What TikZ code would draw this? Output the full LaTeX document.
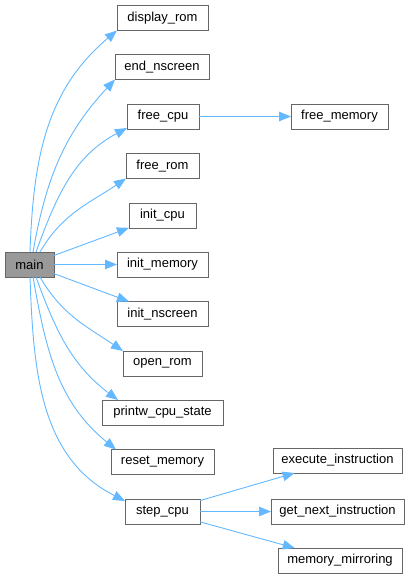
\documentclass[tikz,border=0pt]{standalone}
\usepackage{fontspec}
\setmainfont{Liberation Sans}
\usetikzlibrary{arrows.meta}
\definecolor{edgeblue}{HTML}{63B8FF}
\definecolor{boxborder}{HTML}{666666}
\definecolor{mainfill}{HTML}{999999}
\begin{document}
\begin{tikzpicture}[x=1pt,y=1pt,
 fn/.style={draw=boxborder, line width=1pt, fill=white, minimum height=25pt, inner sep=0pt, outer sep=0pt, font=\fontsize{13}{15}\selectfont},
 mainfn/.style={fn, fill=mainfill},
 edge/.style={draw=edgeblue, line width=0.9pt, -{Triangle[length=12pt,width=9.5pt]}}]
\useasboundingbox (0,0) rectangle (414,-579);
\node[mainfn, minimum width=49pt] (main) at (29.5,-264.5) {main};
\node[fn, minimum width=91pt] (display_rom) at (162.5,-18) {display\_rom};
\node[fn, minimum width=94pt] (end_nscreen) at (162,-67) {end\_nscreen};
\node[fn, minimum width=72pt] (free_cpu) at (163,-116.5) {free\_cpu};
\node[fn, minimum width=97pt] (free_memory) at (339.5,-116.5) {free\_memory};
\node[fn, minimum width=73pt] (free_rom) at (162.5,-166) {free\_rom};
\node[fn, minimum width=67pt] (init_cpu) at (162.5,-215.5) {init\_cpu};
\node[fn, minimum width=91pt] (init_memory) at (162.5,-264.5) {init\_memory};
\node[fn, minimum width=91pt] (init_nscreen) at (162.5,-314) {init\_nscreen};
\node[fn, minimum width=79pt] (open_rom) at (162.5,-363.5) {open\_rom};
\node[fn, minimum width=121pt] (printw_cpu_state) at (162.5,-412.5) {printw\_cpu\_state};
\node[fn, minimum width=103pt] (reset_memory) at (162.5,-462) {reset\_memory};
\node[fn, minimum width=75pt] (step_cpu) at (162.5,-511.5) {step\_cpu};
\node[fn, minimum width=129pt] (execute_instruction) at (337.5,-460.5) {execute\_instruction};
\node[fn, minimum width=133pt] (get_next_instruction) at (337.5,-511.5) {get\_next\_instruction};
\node[fn, minimum width=124pt] (memory_mirroring) at (340,-560.5) {memory\_mirroring};

\draw[edge] ([xshift=0.5pt]main.north) to[out=88,in=-140] (display_rom.south west);
\draw[edge] ([xshift=3.5pt]main.north) to[out=80,in=-133] (end_nscreen.south west);
\draw[edge] ([xshift=6.5pt]main.north) to[out=70,in=-152] ([yshift=1pt]free_cpu.south west);
\draw[edge] ([xshift=10.5pt]main.north) to[out=60,in=-146] (free_rom.south west);
\draw[edge] (main) -- (init_cpu);
\draw[edge] (main) -- (init_memory);
\draw[edge] (main) -- (init_nscreen);
\draw[edge] ([xshift=10.5pt]main.south) to[out=-60,in=146] (open_rom.north west);
\draw[edge] ([xshift=6.5pt]main.south) to[out=-70,in=143] ([xshift=16pt]printw_cpu_state.north west);
\draw[edge] ([xshift=3.5pt]main.south) to[out=-80,in=141] ([xshift=5pt]reset_memory.north west);
\draw[edge] ([xshift=0.5pt]main.south) to[out=-88,in=153] ([yshift=-2pt]step_cpu.north west);
\draw[edge] (free_cpu) -- (free_memory);
\draw[edge] (step_cpu) -- (execute_instruction);
\draw[edge] (step_cpu) -- (get_next_instruction);
\draw[edge] (step_cpu) -- (memory_mirroring);
\end{tikzpicture}
\end{document}
